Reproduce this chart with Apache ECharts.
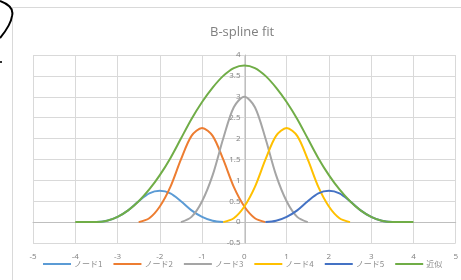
<!DOCTYPE html>
<html>
<head>
<meta charset="utf-8">
<script src="https://cdn.jsdelivr.net/npm/echarts@6/dist/echarts.min.js"></script>
<style>
  html, body { margin: 0; padding: 0; background: #fff; }
  #chart { width: 461px; height: 280px; }
</style>
</head>
<body>
<div id="chart"></div>
<script>
// x samples, step 0.25 from -4 to 4
const xs = [-4, -3.75, -3.5, -3.25, -3, -2.75, -2.5, -2.25, -2, -1.75, -1.5, -1.25, -1, -0.75, -0.5, -0.25,
  0, 0.25, 0.5, 0.75, 1, 1.25, 1.5, 1.75, 2, 2.25, 2.5, 2.75, 3, 3.25, 3.5, 3.75, 4]

const n = null
const node1 = [n, n, 0, 0.031, 0.125, 0.281, 0.5, 0.688, 0.75, 0.688, 0.5, 0.281, 0.125, 0.031, 0,
  n, n, n, n, n, n, n, n, n, n, n, n, n, n, n, n, n, n]
const node2 = [n, n, n, n, n, n, 0, 0.094, 0.375, 0.844, 1.5, 2.063, 2.25, 2.063, 1.5, 0.844, 0.375, 0.094, 0,
  n, n, n, n, n, n, n, n, n, n, n, n, n, n]
const node3 = [n, n, n, n, n, n, n, n, n, n, 0, 0.125, 0.5, 1.125, 2, 2.75, 3, 2.75, 2, 1.125, 0.5, 0.125, 0,
  n, n, n, n, n, n, n, n, n, n]
const node4 = [n, n, n, n, n, n, n, n, n, n, n, n, n, n, 0, 0.094, 0.375, 0.844, 1.5, 2.063, 2.25, 2.063, 1.5, 0.844, 0.375, 0.094, 0,
  n, n, n, n, n, n]
const node5 = [n, n, n, n, n, n, n, n, n, n, n, n, n, n, n, n, n, n, 0, 0.031, 0.125, 0.281, 0.5, 0.688, 0.75, 0.688, 0.5, 0.281, 0.125, 0.031, 0,
  n, n]
const approx = [0, 0, 0, 0.031, 0.125, 0.281, 0.5, 0.781, 1.125, 1.531, 2, 2.469, 2.875, 3.219, 3.5, 3.688,
  3.75, 3.688, 3.5, 3.219, 2.875, 2.469, 2, 1.531, 1.125, 0.781, 0.5, 0.281, 0.125, 0.031, 0, 0, 0]

const names = ['ノード1', 'ノード2', 'ノード3', 'ノード4', 'ノード5', '近似']
const colors = ['#5b9bd5', '#ed7d31', '#a5a5a5', '#ffc000', '#4472c4', '#70ad47']
const values = [node1, node2, node3, node4, node5, approx]

const chart = echarts.init(document.getElementById('chart'))

const series = values.map((ys, k) => ({
  name: names[k],
  type: 'line',
  data: xs.map((x, i) => [x, ys[i]]),
  smooth: 0.3,
  symbol: 'none',
  connectNulls: false,
  lineStyle: { width: 2, color: colors[k] },
  itemStyle: { color: colors[k] }
}))

const labelFont = { color: '#7f7f7f', fontSize: 8, fontFamily: 'Open Sans' }

const option = {
  animation: false,
  title: {
    text: 'B-spline fit',
    left: 205,
    top: 21,
    textStyle: { color: '#7f7f7f', fontSize: 13, fontWeight: 'normal', fontFamily: 'Open Sans' }
  },
  grid: { left: 33, right: 3, top: 55, bottom: 37 },
  xAxis: {
    type: 'value',
    min: -5,
    max: 5,
    interval: 1,
    axisLine: { onZero: true, lineStyle: { color: '#bfbfbf' } },
    axisTick: { show: false },
    axisLabel: Object.assign({ margin: 10 }, labelFont),
    splitLine: { show: true, lineStyle: { color: '#d9d9d9' } }
  },
  yAxis: {
    type: 'value',
    min: -0.5,
    max: 4,
    interval: 0.5,
    // Excel puts the vertical axis at x = 0
    offset: -212.5,
    axisLine: { show: true, onZero: false, lineStyle: { color: '#bfbfbf' } },
    axisTick: { show: false },
    axisLabel: Object.assign({ margin: 5 }, labelFont),
    splitLine: { show: true, lineStyle: { color: '#d9d9d9' } }
  },
  legend: {
    data: names,
    left: 38,
    top: 255,
    icon: 'rect',
    itemWidth: 28,
    itemHeight: 2,
    itemGap: 11,
    textStyle: { color: '#8c8c8c', fontSize: 8, fontFamily: 'Noto Sans CJK JP', padding: [0, 0, 0, -2] }
  },
  graphic: [
    {
      type: 'rect',
      shape: { x: 12.5, y: 7.5, width: 460, height: 290 },
      style: { fill: 'none', stroke: '#d9d9d9', lineWidth: 1 },
      z: -10
    },
    {
      // the hand-drawn black arc in the corner
      type: 'bezierCurve',
      shape: { x1: 0, y1: 1, cpx1: 8, cpy1: 4, cpx2: 14, cpy2: 9, x2: 12, y2: 16 },
      style: { fill: 'none', stroke: '#000', lineWidth: 2 }
    },
    {
      type: 'bezierCurve',
      shape: { x1: 12, y1: 16, cpx1: 11, cpy1: 24, cpx2: 5, cpy2: 32, x2: 0, y2: 38 },
      style: { fill: 'none', stroke: '#000', lineWidth: 2 }
    },
    {
      type: 'line',
      shape: { x1: 0, y1: 62, x2: 2, y2: 62 },
      style: { stroke: '#333', lineWidth: 2 }
    }
  ],
  series: series
}

chart.setOption(option)
</script>
</body>
</html>
